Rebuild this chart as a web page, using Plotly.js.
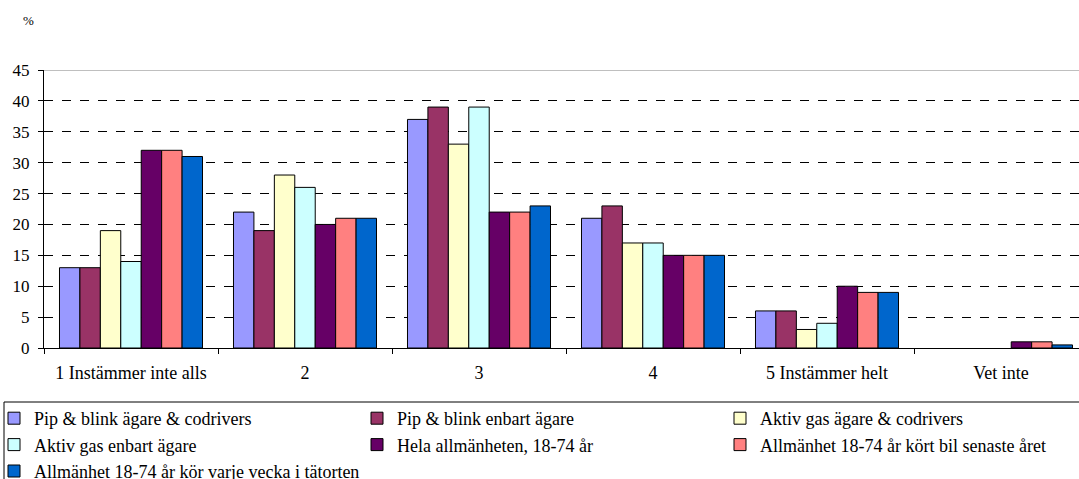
<!DOCTYPE html>
<html>
<head>
<meta charset="utf-8">
<script src="https://cdn.plot.ly/plotly-3.0.1.min.js"></script>
<style>
html,body{margin:0;padding:0;overflow:hidden;background:#fff;}
#chart{width:1100px;height:479px;}
#chart svg text{font-family:"Liberation Serif","Times New Roman","DejaVu Serif",serif !important;}
</style>
</head>
<body>
<div id="chart"></div>
<script>
const categories = ["1 Instämmer inte alls", "2", "3", "4", "5 Instämmer helt", "Vet inte"];
const seriesNames = [
  "Pip & blink ägare & codrivers",
  "Pip & blink enbart ägare",
  "Aktiv gas ägare & codrivers",
  "Aktiv gas enbart ägare",
  "Hela allmänheten, 18-74 år",
  "Allmänhet 18-74 år kört bil senaste året",
  "Allmänhet 18-74 år kör varje vecka i tätorten"
];
const pipBlinkCo = [13, 22, 37, 21, 6, 0];
const pipBlinkOwner = [13, 19, 39, 23, 6, 0];
const aktivGasCo = [19, 28, 33, 17, 3, 0];
const aktivGasOwner = [14, 26, 39, 17, 4, 0];
const helaAllm = [32, 20, 22, 15, 10, 1];
const allmKort = [32, 21, 22, 15, 9, 1];
const allmVecka = [31, 21, 23, 15, 9, 0.5];
const seriesValues = [pipBlinkCo, pipBlinkOwner, aktivGasCo, aktivGasOwner, helaAllm, allmKort, allmVecka];
const colors = ["#9999FF", "#993366", "#FFFFCC", "#CCFFFF", "#660066", "#FF8080", "#0066CC"];

const serif = "Liberation Serif";

const traces = seriesNames.map((name, i) => ({
  type: "bar",
  name: name,
  x: categories,
  y: seriesValues[i].map(v => v === 0 ? null : v),
  marker: {color: colors[i], line: {color: "#000", width: 1}},
  hoverinfo: "name+y"
}));

const plotW = 1044, plotH = 278;

const layout = {
  width: 1100,
  height: 479,
  margin: {l: 44, r: 12, t: 70, b: 131, autoexpand: false},
  paper_bgcolor: "#fff",
  plot_bgcolor: "#fff",
  barmode: "group",
  bargap: 0.178,
  bargroupgap: 0,
  font: {family: serif, color: "#000", size: 17},
  showlegend: true,
  xaxis: {
    type: "category",
    tickson: "boundaries",
    ticks: "outside",
    ticklen: 5,
    tickcolor: "#000",
    showline: true,
    linecolor: "#000",
    linewidth: 1,
    showgrid: false,
    ticklabelstandoff: 8,
    tickfont: {family: serif, size: 18, color: "#000"},
    fixedrange: true
  },
  yaxis: {
    range: [0, 45],
    dtick: 5,
    tick0: 0,
    ticks: "outside",
    ticklen: 5,
    tickcolor: "#000",
    showline: true,
    linecolor: "#000",
    linewidth: 1,
    showgrid: true,
    gridcolor: "#000",
    griddash: "dash",
    gridwidth: 1,
    zeroline: false,
    ticklabelstandoff: 5,
    tickfont: {family: serif, size: 17, color: "#000"},
    fixedrange: true
  },
  legend: {
    orientation: "h",
    x: -50 / plotW,
    xanchor: "left",
    y: -52 / plotH,
    yanchor: "top",
    entrywidth: 318,
    entrywidthmode: "pixels",
    borderwidth: 0,
    bgcolor: "rgba(0,0,0,0)",
    font: {family: serif, size: 18, color: "#000"},
    traceorder: "normal",
    itemclick: false,
    itemdoubleclick: false
  },
  shapes: [
    {
      type: "line", xref: "paper", yref: "y",
      x0: 0, x1: 1, y0: 45, y1: 45,
      line: {color: "#808080", width: 1}, layer: "above"
    },
    {
      type: "rect", xref: "paper", yref: "paper",
      x0: -40 / plotW, x1: 1.2, y0: -54 / plotH, y1: -200 / plotH,
      line: {color: "#000", width: 1}, fillcolor: "rgba(0,0,0,0)", layer: "above"
    }
  ],
  annotations: [{
    text: "%", xref: "paper", yref: "paper",
    x: -16 / plotW, y: 328 / plotH, xanchor: "center", yanchor: "middle",
    showarrow: false, font: {family: serif, size: 13, color: "#000"}
  }]
};

Plotly.newPlot("chart", traces, layout, {displayModeBar: false});
</script>
</body>
</html>
